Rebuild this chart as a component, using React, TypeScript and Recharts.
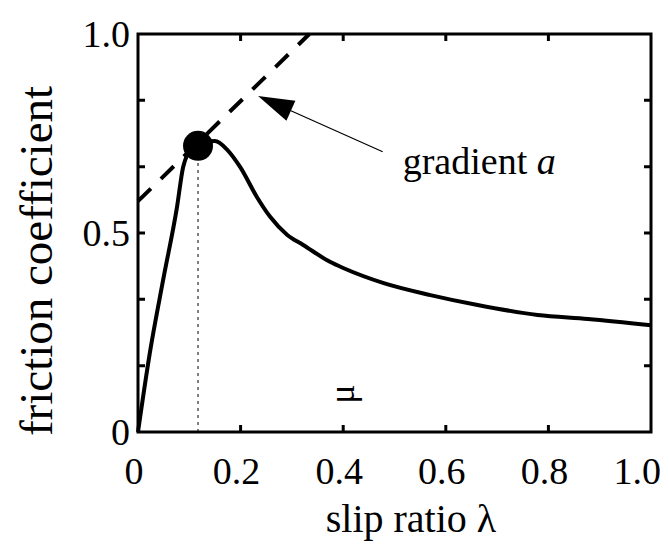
import React from 'react';
import { LineChart, Line, XAxis, YAxis, ReferenceDot, ReferenceLine, ReferenceArea } from 'recharts';

// slip ratio (x) and friction coefficient (y)
const slipRatio = [0, 0.023, 0.049, 0.076, 0.088, 0.096, 0.11, 0.13, 0.15, 0.174, 0.199, 0.232, 0.258, 0.291, 0.322, 0.375, 0.4, 0.479, 0.57, 0.662, 0.779, 0.877, 1.0];
const friction = [0, 0.198, 0.382, 0.565, 0.666, 0.696, 0.715, 0.728, 0.731, 0.709, 0.666, 0.59, 0.54, 0.495, 0.47, 0.427, 0.412, 0.374, 0.344, 0.319, 0.294, 0.284, 0.268];

// tangent at the marked point (gradient a)
const tangentX = [0, 0.334];
const tangentY = [0.58, 1.0];

const peakX = 0.117;
const peakY = 0.719;

const arrowTail = { x: 0.477, y: 0.704 };
const arrowTip = { x: 0.234, y: 0.844 };

const xTicks = [0, 0.2, 0.4, 0.6, 0.8, 1.0];
const xTickLabels = ['0', '0.2', '0.4', '0.6', '0.8', '1.0'];
const yTicks = [0, 0.1667, 0.3333, 0.5, 0.6667, 0.8333, 1.0];
const yTickLabels = ['0', '', '', '0.5', '', '', '1.0'];

const curve = slipRatio.map((x, i) => ({ x, y: friction[i] }));
const tangent = tangentX.map((x, i) => ({ x, y: tangentY[i] }));

const FONT = 'Liberation Serif, DejaVu Serif, serif';
const TICK = 7;
// plot box (set by the margins below)
const TOP = 34;
const LEFT = 138;
const RIGHT = 651;
const BOTTOM = 432;

const BottomTick = (props: any) => {
  const { x, y, payload } = props;
  const v = Number(payload.value);
  const label = xTickLabels[xTicks.indexOf(v)];
  const last = v === 1;
  const inner = v > 0.01 && v < 0.99;
  return (
    <g>
      {inner && <path d={`M${x},${BOTTOM} V${BOTTOM - TICK} M${x},${TOP} V${TOP + TICK}`} stroke="#000" strokeWidth={3} fill="none" />}
      <text x={last ? x + 10 : x - 4} y={y + 2} textAnchor={last ? 'end' : 'middle'} fontFamily={FONT} fontSize={38} fill="#000">
        {label}
      </text>
    </g>
  );
};

const LeftTick = (props: any) => {
  const { x, y, payload } = props;
  const v = Number(payload.value);
  const label = yTickLabels[yTicks.indexOf(v)];
  const inner = v > 0.01 && v < 0.99;
  return (
    <g>
      {inner && <path d={`M${LEFT},${y} H${LEFT + TICK} M${RIGHT},${y} H${RIGHT - TICK}`} stroke="#000" strokeWidth={3} fill="none" />}
      <text x={x} y={y} dy="0.35em" textAnchor="end" fontFamily={FONT} fontSize={38} fill="#000">
        {label}
      </text>
    </g>
  );
};

const Arrow = (props: any) => {
  const { x1, y1, x2, y2 } = props;
  const dx = x2 - x1;
  const dy = y2 - y1;
  const len = Math.sqrt(dx * dx + dy * dy);
  const ux = dx / len;
  const uy = dy / len;
  const headLen = 36;
  const half = 11;
  const bx = x2 - ux * headLen;
  const by = y2 - uy * headLen;
  const pts = `${x2},${y2} ${bx - uy * half},${by + ux * half} ${bx + uy * half},${by - ux * half}`;
  return (
    <g>
      <line x1={x1} y1={y1} x2={bx} y2={by} stroke="#000" strokeWidth={1.2} />
      <polygon points={pts} fill="#000" />
      <text x={x1 + 20} y={y1 + 22} fontFamily={FONT} fontSize={38} fill="#000">
        gradient <tspan fontStyle="italic">a</tspan>
      </text>
    </g>
  );
};

export default function App() {
  return (
    <div style={{ position: 'absolute', left: 0, top: 0, width: 669, height: 547, background: '#fff' }}>
      <LineChart width={669} height={547} data={curve} margin={{ top: TOP, right: 18, bottom: 55, left: 78 }}>
        <XAxis dataKey="x" type="number" domain={[0, 1]} ticks={xTicks} height={60} tickSize={0} tickMargin={50}
          tickLine={false} axisLine={false} tick={<BottomTick />} interval={0} />
        <YAxis type="number" domain={[0, 1]} ticks={yTicks} width={60} tickSize={0} tickMargin={8} tickLine={false}
          axisLine={false} tick={<LeftTick />} interval={0} />
        <ReferenceArea x1={0} x2={1} y1={0} y2={1} fill="none" fillOpacity={0} stroke="#000" strokeWidth={3} ifOverflow="visible" />
        <ReferenceLine segment={[{ x: peakX, y: 0 }, { x: peakX, y: peakY }]} stroke="#000" strokeWidth={1} strokeDasharray="3 4" />
        <Line data={tangent} dataKey="y" type="linear" stroke="#000" strokeWidth={4} strokeDasharray="18 14" dot={false} isAnimationActive={false} />
        <Line dataKey="y" type="monotone" stroke="#000" strokeWidth={4} dot={false} isAnimationActive={false} />
        <ReferenceDot x={peakX} y={peakY} r={15} fill="#000" stroke="none" />
        <ReferenceLine segment={[arrowTail, arrowTip]} shape={(p: any) => <Arrow {...p} />} />
      </LineChart>
      <svg width={669} height={547} style={{ position: 'absolute', left: 0, top: 0, pointerEvents: 'none' }}>
        <text x={52} y={261} transform="rotate(-90 52 261)" textAnchor="middle" fontFamily={FONT} fontSize={47} fill="#000">
          friction coefficient
        </text>
        <text x={411} y={532} textAnchor="middle" fontFamily={FONT} fontSize={40} fill="#000">
          slip ratio λ
        </text>
        <text x={341} y={394} dy="0.35em" transform="rotate(-90 341 394)" textAnchor="middle" fontFamily={FONT} fontSize={36} fill="#000">
          μ
        </text>
      </svg>
    </div>
  );
}
